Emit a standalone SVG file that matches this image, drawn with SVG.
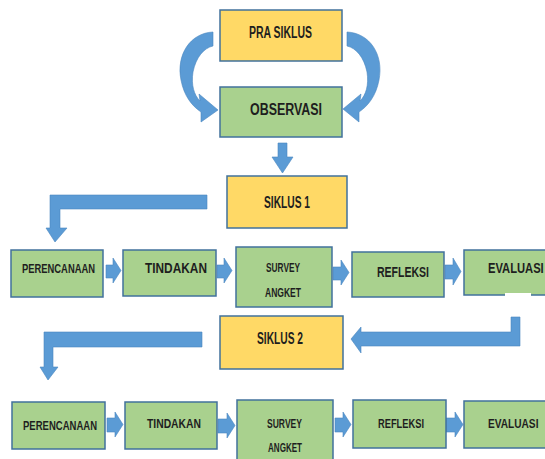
<svg xmlns="http://www.w3.org/2000/svg" width="545" height="459" viewBox="0 0 545 459">
<style>
.y{fill:#FFD966;stroke:#41719C;stroke-width:1.5}
.g{fill:#A9D18E;stroke:#41719C;stroke-width:1.5}
.a{fill:#5B9BD5;stroke:#4A86C0;stroke-width:0.6}
text{font-family:"Liberation Sans",Arial,sans-serif;font-weight:bold;fill:#1E1E1E}
</style>
<rect width="545" height="459" fill="#FFFFFF"/>
<g id="connectors">
<path class="a" d="M213,32 C190,33 176,55 181,80 C184,96 192,106 201,112 L201,122 L218,110 L199,94 L200,101 C194,95 191,85 193,72 C196,57 204,48 213,46 Z"/>
<path class="a" d="M347,32 C370,33 384,55 379,80 C376,96 368,106 359,112 L359,122 L343,109 L361,94 L360,101 C366,95 369,85 367,72 C364,57 356,48 347,46 Z"/>
<path class="a" d="M278,143 H287 V157 H293 L282.5,173 L272,157 H278 Z"/>
<path class="a" d="M207,195 V209 H60 V228 H67 L55,242 L46,228 H50 V195 Z"/>
<path class="a" d="M202,332 V347 H53 V367 H58 L48,380 L40,367 H44 V332 Z"/>
<path class="a" d="M511,317 H520 V346 H361 V353 L351,339 L361,327 V332 H511 Z"/>
<path class="a" d="M106,265 H113 V258 L121,270.5 L113,283 V278 H106 Z"/>
<path class="a" d="M217,265 H224 V258 L232,270.5 L224,283 V278 H217 Z"/>
<path class="a" d="M333,267 H341 V260 L349,272.5 L341,285 V280 H333 Z"/>
<path class="a" d="M445,265 H453 V258 L461,271.5 L453,285 V279 H445 Z"/>
<path class="a" d="M107,418 H115 V412 L123,424.5 L115,437 V432 H107 Z"/>
<path class="a" d="M218,419 H227 V413 L235,425.5 L227,438 V433 H218 Z"/>
<path class="a" d="M335,418 H343 V412 L351,424.5 L343,437 V432 H335 Z"/>
<path class="a" d="M446,418 H455 V412 L463,424.5 L455,437 V432 H446 Z"/>
</g>
<g id="pra-siklus"><rect class="y" x="220" y="10" width="122" height="51"/><text x="249" y="38" font-size="16" textLength="63" lengthAdjust="spacingAndGlyphs">PRA SIKLUS</text></g>
<g id="observasi"><rect class="g" x="220" y="87" width="122" height="50"/><text x="250" y="115" font-size="16" textLength="72" lengthAdjust="spacingAndGlyphs">OBSERVASI</text></g>
<g id="siklus1"><rect class="y" x="227" y="176" width="120" height="52"/><text x="264" y="208" font-size="16" textLength="46" lengthAdjust="spacingAndGlyphs">SIKLUS 1</text></g>
<g id="perencanaan1"><rect class="g" x="11" y="250" width="92" height="47"/><text x="22" y="273" font-size="13" textLength="73" lengthAdjust="spacingAndGlyphs">PERENCANAAN</text></g>
<g id="tindakan1"><rect class="g" x="123" y="250" width="93" height="46"/><text x="145" y="273" font-size="14" textLength="62" lengthAdjust="spacingAndGlyphs">TINDAKAN</text></g>
<g id="survey1"><rect class="g" x="236" y="247" width="96" height="60"/><text x="266" y="272" font-size="12" textLength="34" lengthAdjust="spacingAndGlyphs">SURVEY</text><text x="265" y="297" font-size="12" textLength="36" lengthAdjust="spacingAndGlyphs">ANGKET</text></g>
<g id="refleksi1"><rect class="g" x="352" y="252" width="92" height="45"/><text x="377" y="277" font-size="14" textLength="52" lengthAdjust="spacingAndGlyphs">REFLEKSI</text></g>
<g id="evaluasi1"><rect class="g" x="464" y="250" width="82" height="45"/><rect x="505" y="293" width="26" height="4" fill="#FFFFFF"/><text transform="translate(488,273) scale(0.8,1)" font-size="14">EVALUASI</text></g>
<g id="siklus2"><rect class="y" x="220" y="316" width="123" height="53"/><text x="257" y="344" font-size="16" textLength="46" lengthAdjust="spacingAndGlyphs">SIKLUS 2</text></g>
<g id="perencanaan2"><rect class="g" x="12" y="402" width="93" height="47"/><text x="23" y="430" font-size="13" textLength="74" lengthAdjust="spacingAndGlyphs">PERENCANAAN</text></g>
<g id="tindakan2"><rect class="g" x="125" y="402" width="92" height="47"/><text x="147" y="428" font-size="13" textLength="54" lengthAdjust="spacingAndGlyphs">TINDAKAN</text></g>
<g id="survey2"><rect class="g" x="237" y="400" width="96" height="64"/><text x="267" y="428" font-size="12" textLength="35" lengthAdjust="spacingAndGlyphs">SURVEY</text><text x="268" y="452" font-size="12" textLength="34" lengthAdjust="spacingAndGlyphs">ANGKET</text></g>
<g id="refleksi2"><rect class="g" x="353" y="400" width="93" height="48"/><text x="378" y="428" font-size="13" textLength="46" lengthAdjust="spacingAndGlyphs">REFLEKSI</text></g>
<g id="evaluasi2"><rect class="g" x="464" y="401" width="82" height="47"/><text transform="translate(488,428) scale(0.78,1)" font-size="13">EVALUASI</text></g>
</svg>
